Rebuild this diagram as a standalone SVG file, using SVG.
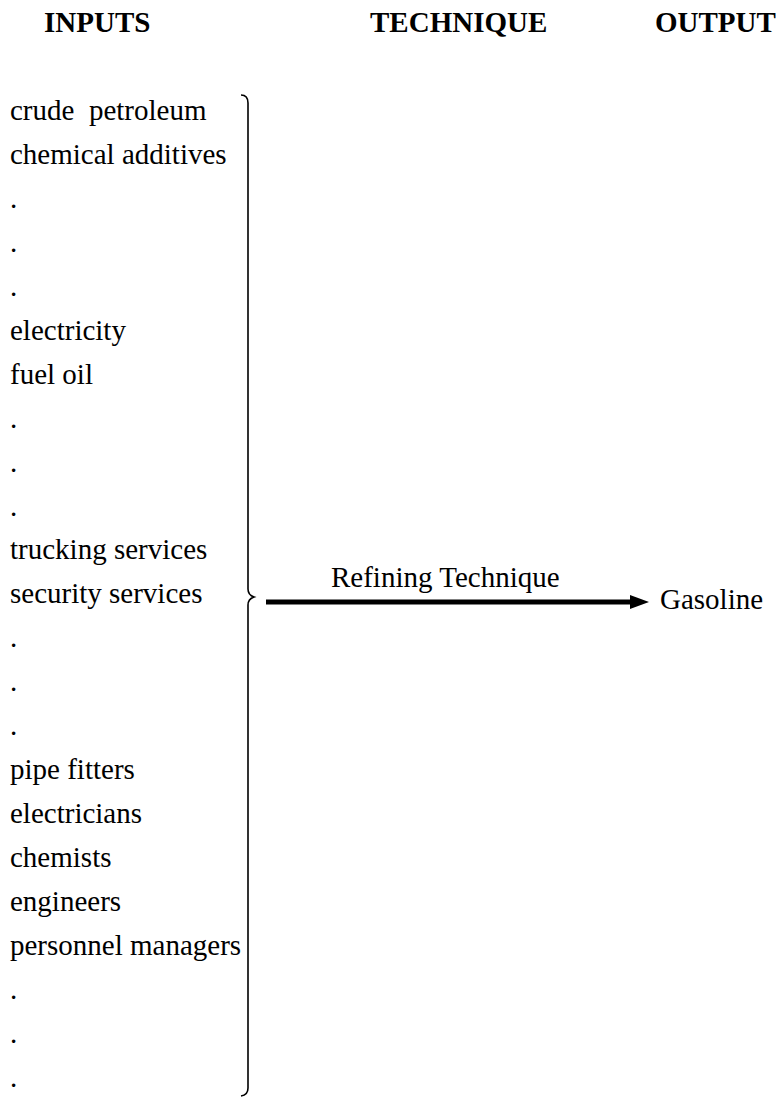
<svg xmlns="http://www.w3.org/2000/svg" width="776" height="1097" viewBox="0 0 776 1097">
<style>
  text { font-family: "Liberation Serif", "Times New Roman", serif; fill: #000; }
  .hdr { font-size: 29px; font-weight: bold; }
  .item { font-size: 29px; white-space: pre; }
  .lbl { font-size: 29px; }
  .brace { fill: none; stroke: #000; stroke-width: 1.6; }
  .conn { stroke: #000; stroke-width: 5; fill: none; }
</style>
<defs>
  <marker id="arrow" markerUnits="userSpaceOnUse" markerWidth="20" markerHeight="16" refX="0" refY="8" orient="auto">
    <polygon points="0,1 19,8 0,15" fill="#000"/>
  </marker>
</defs>
<rect width="776" height="1097" fill="#fff"/>
<g id="headers">
  <text class="hdr" x="44" y="32">INPUTS</text>
  <text class="hdr" x="370" y="32">TECHNIQUE</text>
  <text class="hdr" x="655" y="32">OUTPUT</text>
</g>
<g id="inputs">
  <text class="item" x="10" y="120">crude  petroleum</text>
  <text class="item" x="10" y="163.9">chemical additives</text>
  <text class="item" x="10" y="207.9">.</text>
  <text class="item" x="10" y="251.8">.</text>
  <text class="item" x="10" y="295.8">.</text>
  <text class="item" x="10" y="339.7">electricity</text>
  <text class="item" x="10" y="383.6">fuel oil</text>
  <text class="item" x="10" y="427.6">.</text>
  <text class="item" x="10" y="471.5">.</text>
  <text class="item" x="10" y="515.5">.</text>
  <text class="item" x="10" y="559.4">trucking services</text>
  <text class="item" x="10" y="603.3">security services</text>
  <text class="item" x="10" y="647.3">.</text>
  <text class="item" x="10" y="691.2">.</text>
  <text class="item" x="10" y="735.2">.</text>
  <text class="item" x="10" y="779.1">pipe fitters</text>
  <text class="item" x="10" y="823">electricians</text>
  <text class="item" x="10" y="867">chemists</text>
  <text class="item" x="10" y="910.9">engineers</text>
  <text class="item" x="10" y="954.9">personnel managers</text>
  <text class="item" x="10" y="998.8">.</text>
  <text class="item" x="10" y="1042.7">.</text>
  <text class="item" x="10" y="1086.7">.</text>
</g>
<g id="brace">
  <path class="brace" d="M 241 95 Q 248 95 248 103 L 248 589 Q 248 595 254 597 Q 248 599 248 605 L 248 1088 Q 248 1095 241 1096"/>
</g>
<g id="technique">
  <text class="lbl" x="331" y="587">Refining Technique</text>
</g>
<g id="output">
  <text class="lbl" x="660" y="609">Gasoline</text>
</g>
<g id="connectors">
  <line class="conn" x1="266" y1="602" x2="630" y2="602" marker-end="url(#arrow)"/>
</g>
</svg>
